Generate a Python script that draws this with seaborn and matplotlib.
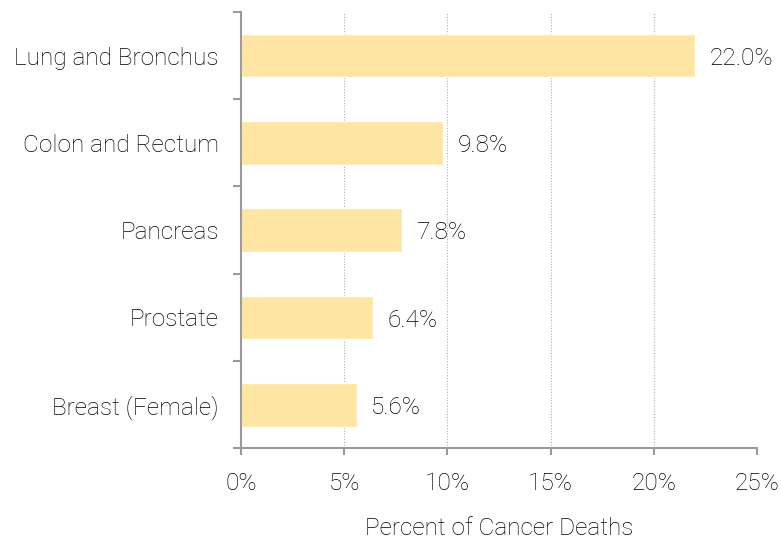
import seaborn as sns
import matplotlib.pyplot as plt
import pandas as pd
from matplotlib.ticker import FixedLocator, FuncFormatter

# values
sites = ['Lung and Bronchus', 'Colon and Rectum', 'Pancreas', 'Prostate', 'Breast (Female)']
pct = [22.0, 9.8, 7.8, 6.4, 5.6]
xticks = [0, 5, 10, 15, 20, 25]

df = pd.DataFrame({'site': sites, 'pct': pct})

sns.set_style('white', {'xtick.bottom': True, 'ytick.left': True})
plt.rcParams['font.family'] = ['Roboto', 'DejaVu Sans']
plt.rcParams['font.weight'] = 'light'

fig = plt.figure(figsize=(7.81, 5.39), dpi=100)
ax = fig.add_axes([0.3086, 0.168, 0.6606, 0.810])

sns.barplot(data=df, x='pct', y='site', color='#FEE5A3', saturation=1,
            width=0.5, ax=ax)

txt = '#000000'
axc = '#9a9a9a'
fs = 17.6

# value labels, a touch below bar centre like the original
for i, v in enumerate(pct):
    ax.text(v + 0.7, i + 0.03, '{:.1f}%'.format(v), va='center', ha='left',
            fontsize=fs, color=txt, fontweight='light')

ax.set_xlim(0, 25)
ax.set_ylim(4.5, -0.5)
ax.xaxis.set_major_locator(FixedLocator(xticks))
ax.xaxis.set_major_formatter(FuncFormatter(lambda x, p: '{:.0f}%'.format(x)))

# grid
for x in xticks[1:]:
    ax.axvline(x, color='#b0b0b0', linestyle=(0, (1, 1.5)), linewidth=0.8, zorder=0)

for s in ['top', 'right']:
    ax.spines[s].set_visible(False)
for s in ['left', 'bottom']:
    ax.spines[s].set_color(axc)
    ax.spines[s].set_linewidth(1.5)

ax.tick_params(axis='x', which='major', bottom=True, direction='out', length=5,
               width=1.5, color=axc, labelsize=fs, labelcolor=txt, pad=12)
ax.tick_params(axis='y', which='major', length=0, labelsize=fs,
               labelcolor=txt, pad=16)
ax.yaxis.set_minor_locator(FixedLocator([-0.5, 0.5, 1.5, 2.5, 3.5, 4.5]))
ax.tick_params(axis='y', which='minor', left=True, direction='out', length=6,
               width=1.5, color=axc)

ax.set_ylabel('')
ax.set_xlabel('Percent of Cancer Deaths', fontsize=fs, color=txt, labelpad=16,
              fontweight='light')

plt.savefig('out.png', dpi=100)
